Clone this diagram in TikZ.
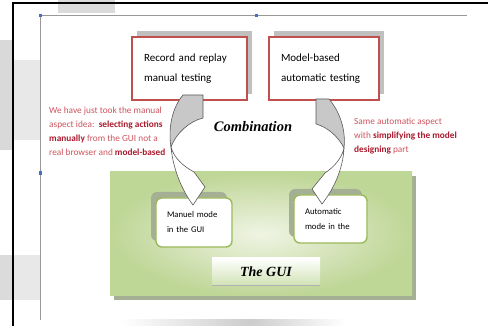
\documentclass[tikz,border=0pt]{standalone}
\usepackage{fontspec}
\setmainfont{Carlito}
\newfontfamily\headfont{Liberation Serif}
\usetikzlibrary{positioning, shadows}

\definecolor{boxred}{HTML}{C0504D}
\definecolor{notered}{RGB}{205,85,95}
\definecolor{strongred}{RGB}{170,25,45}
\definecolor{guigreen}{HTML}{9BBB59}
\definecolor{panelgreen}{RGB}{190,214,150}
\definecolor{panellight}{RGB}{240,244,228}
\definecolor{shadowgray}{RGB}{192,192,192}
\definecolor{greenshadow}{RGB}{165,175,148}
\definecolor{curvegray}{RGB}{200,200,200}
\definecolor{handleblue}{RGB}{70,110,200}

\newcommand{\emred}[1]{\textcolor{strongred}{\bfseries #1}}

\begin{document}
\begin{tikzpicture}[x=1pt, y=-1pt,
    topbox/.style={draw=boxred, line width=1.6pt, fill=white, minimum height=63pt,
        inner xsep=11pt, align=left, font=\fontsize{11}{20}\selectfont,
        drop shadow={shadow xshift=5pt, shadow yshift=6pt, fill=shadowgray, opacity=1}},
    modebox/.style={draw=guigreen, line width=1.4pt, fill=white, rounded corners=6pt,
        inner xsep=10pt, align=left, font=\fontsize{8.7}{15}\selectfont,
        drop shadow={shadow xshift=-5pt, shadow yshift=6pt, fill=greenshadow, opacity=1}},
    note/.style={text=notered, align=left, inner sep=0pt, anchor=north west,
        font=\fontsize{9.3}{14}\selectfont},
    curve/.style={draw=black!65, line width=0.6pt},
    title/.style={font=\headfont\bfseries\itshape\fontsize{14.5}{16}\selectfont}
]
    \useasboundingbox (0,0) rectangle (488,326);
    \fill[white] (0,0) rectangle (488,326);

    % screenshot leftovers
    \fill[black!15] (0,40) rectangle (13,150);
    \fill[black!9] (13,60) rectangle (40,140);
    \fill[black!14] (0,255) rectangle (13,300);
    \fill[black!9] (13,255) rectangle (40,300);
    \fill[black!14] (58,0) rectangle (115,13);
    \shade[left color=white, right color=black!20] (120,319) rectangle (250,326);
    \shade[left color=black!20, right color=white] (250,319) rectangle (345,326);
    \draw[black, line width=2pt] (13,326) -- (13,3) -- (488,3);
    \draw[black!40, line width=0.8pt] (40,320) -- (40,15) -- (467,15);
    \fill[handleblue] (39,14) rectangle (42,17);
    \fill[handleblue] (255,14) rectangle (258,17);
    \fill[handleblue] (39,171) rectangle (42,175);

    % GUI panel
    \node[minimum width=302pt, minimum height=124pt, inner color=panellight, outer color=panelgreen,
        drop shadow={shadow xshift=4pt, shadow yshift=-4pt, fill=greenshadow, opacity=1}]
        (panel) at (261,234) {};
    \node[modebox, minimum width=76pt, minimum height=49pt, text width=54pt] (manual) at (194,222.5)
        {Manuel mode\\in the GUI};
    \node[modebox, minimum width=73pt, minimum height=48pt, text width=51pt] (auto) at (330.5,219)
        {Automatic\\mode in the};
    \node[minimum width=108pt, minimum height=27pt, top color=white, bottom color=panelgreen!70,
        title, font=\headfont\bfseries\itshape\fontsize{14}{16}\selectfont] (gui) at (266,271.5) {The GUI};
    \draw[black!30, line width=1pt] (gui.south west) -- (gui.south east);

    % the two approaches
    \node[topbox, minimum width=115pt, text width=91pt] (replay) at (189.5,68.5)
        {Record and replay\\manual testing};
    \node[topbox, minimum width=110pt, text width=86pt] (model) at (324,68.5)
        {Model-based\\automatic testing};

    \node[note] (leftnote) at (49,107)
        {We have just took the manual\\aspect idea:~~\emred{selecting actions}\\
         \emred{manually} from the GUI not a\\real browser and \emred{model-based}};
    \node[note] (rightnote) at (354,118)
        {Same automatic aspect\\with \emred{simplifying the model}\\\emred{designing} part};

    \node[title] (comb) at (253,127) {Combination};

    % curved arrows
    \filldraw[curve, fill=curvegray] (183,95) .. controls (172,108) and (168,128) .. (171,147)
        .. controls (176,133) and (190,121) .. (203,118) -- (203,95) -- cycle;
    \filldraw[curve, fill=white] (171,147) .. controls (173,170) and (183,192) .. (193,205)
        -- (205,187) -- (194,172) .. controls (183,166) and (174,158) .. (171,147) -- cycle;
    \filldraw[curve, fill=curvegray] (329,99) .. controls (340,112) and (346,130) .. (344,148)
        .. controls (338,136) and (327,127) .. (316,124) -- (316,99) -- cycle;
    \filldraw[curve, fill=white] (344,148) .. controls (343,170) and (333,190) .. (322,204)
        -- (312,189) -- (325,173) .. controls (334,167) and (342,158) .. (344,148) -- cycle;
\end{tikzpicture}
\end{document}
